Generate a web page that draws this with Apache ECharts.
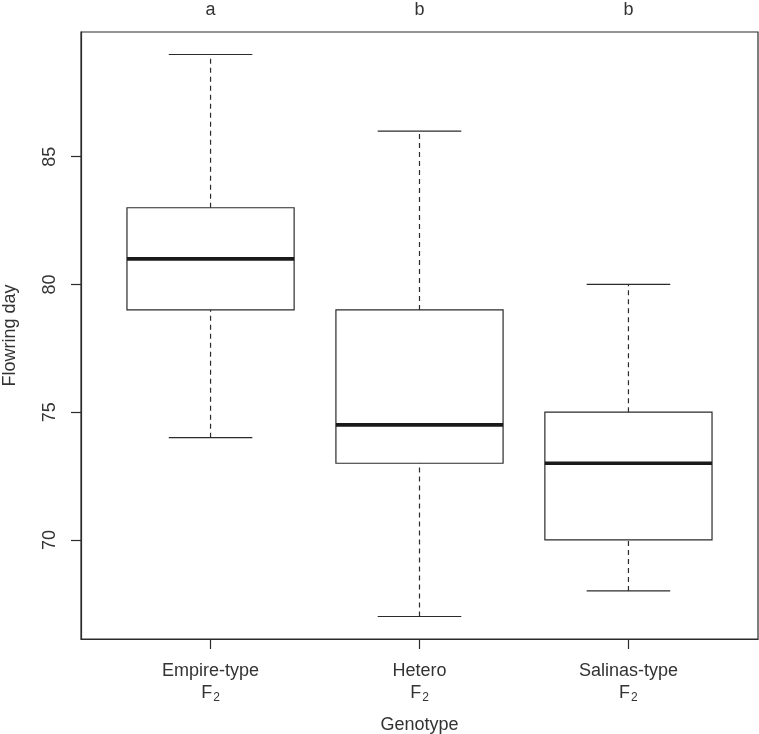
<!DOCTYPE html>
<html>
<head>
<meta charset="utf-8">
<title>Flowering day by genotype</title>
<script src="https://cdn.jsdelivr.net/npm/echarts@6/dist/echarts.min.js"></script>
<style>
  html, body { margin: 0; padding: 0; background: #fff; }
  #chart { width: 759px; height: 734px; }
</style>
</head>
<body>
<div id="chart"></div>
<script>
  // data
  var genotypes = ['Empire-type', 'Hetero', 'Salinas-type'];
  var sigLetters = ['a', 'b', 'b'];
  var whiskerLow = [74, 67, 68];
  var q1 = [79, 73, 70];
  var median = [81, 74.5, 73];
  var q3 = [83, 79, 75];
  var whiskerHigh = [89, 86, 80];
  var yTicks = [70, 75, 80, 85];

  var boxData = genotypes.map(function (g, i) {
    return [i + 1, whiskerLow[i], q1[i], median[i], q3[i], whiskerHigh[i]];
  });

  var lineCol = '#2b2b2b';
  var textCol = '#333';
  var fontFam = '"Liberation Sans", Arial, sans-serif';

  function renderBox(params, api) {
    var x = api.value(0);
    var lo = api.value(1), a = api.value(2), m = api.value(3), b = api.value(4), hi = api.value(5);
    var bw = 0.4, sw = 0.2;
    function pt(xx, yy) { return api.coord([xx, yy]); }
    var dash = { stroke: lineCol, lineWidth: 1.2, lineDash: [5, 4] };
    var solid = { stroke: lineCol, lineWidth: 1.2 };
    var pLoL = pt(x - sw, lo), pLoR = pt(x + sw, lo);
    var pHiL = pt(x - sw, hi), pHiR = pt(x + sw, hi);
    var bTL = pt(x - bw, b), bBR = pt(x + bw, a);
    var mL = pt(x - bw, m), mR = pt(x + bw, m);
    return {
      type: 'group',
      children: [
        { type: 'line', shape: { x1: pt(x, lo)[0], y1: pt(x, lo)[1], x2: pt(x, a)[0], y2: pt(x, a)[1] }, style: dash },
        { type: 'line', shape: { x1: pt(x, b)[0], y1: pt(x, b)[1], x2: pt(x, hi)[0], y2: pt(x, hi)[1] }, style: dash },
        { type: 'line', shape: { x1: pLoL[0], y1: pLoL[1], x2: pLoR[0], y2: pLoR[1] }, style: solid },
        { type: 'line', shape: { x1: pHiL[0], y1: pHiL[1], x2: pHiR[0], y2: pHiR[1] }, style: solid },
        { type: 'rect', shape: { x: bTL[0], y: bTL[1], width: bBR[0] - bTL[0], height: bBR[1] - bTL[1] },
          style: { fill: '#fff', stroke: lineCol, lineWidth: 1.2 } },
        { type: 'line', shape: { x1: mL[0], y1: mL[1], x2: mR[0], y2: mR[1] }, style: { stroke: '#1a1a1a', lineWidth: 3.6 } }
      ]
    };
  }

  var chart = echarts.init(document.getElementById('chart'));
  chart.setOption({
    animation: false,
    grid: { left: 81, top: 32, right: 1, bottom: 95, outerBoundsMode: 'none', containLabel: false,
      show: true, borderColor: lineCol, borderWidth: 1.2 },
    xAxis: [{
      type: 'value', min: 0.38, max: 3.62, position: 'bottom',
      splitLine: { show: false },
      axisLine: { show: true, lineStyle: { color: lineCol, width: 1.2 } },
      axisTick: { show: true, inside: false, length: 10, customValues: [1, 2, 3], lineStyle: { color: lineCol, width: 1.2 } },
      axisLabel: {
        customValues: [1, 2, 3], margin: 21, color: textCol, fontFamily: fontFam, fontSize: 18, lineHeight: 22,
        formatter: function (v) { return genotypes[Math.round(v) - 1] + '\n{f|F}{s|2}'; },
        rich: {
          f: { fontSize: 18, color: textCol, fontFamily: fontFam, lineHeight: 22 },
          s: { fontSize: 12, color: textCol, fontFamily: fontFam, lineHeight: 22, verticalAlign: 'bottom', padding: [8, 0, 0, 1] }
        }
      },
      name: 'Genotype', nameLocation: 'middle', nameGap: 77,
      nameTextStyle: { color: textCol, fontFamily: fontFam, fontSize: 18 }
    }, {
      type: 'value', min: 0.38, max: 3.62, position: 'top',
      splitLine: { show: false }, axisLine: { show: false }, axisTick: { show: false },
      axisLabel: {
        customValues: [1, 2, 3], margin: 13, color: textCol, fontFamily: fontFam, fontSize: 18,
        formatter: function (v) { return sigLetters[Math.round(v) - 1]; }
      }
    }],
    yAxis: {
      type: 'value', min: 66.12, max: 89.88,
      splitLine: { show: false },
      axisLine: { show: true, lineStyle: { color: lineCol, width: 1.2 } },
      axisTick: { show: true, inside: false, length: 10, customValues: yTicks, lineStyle: { color: lineCol, width: 1.2 } },
      axisLabel: { customValues: yTicks, rotate: 90, margin: 22, color: textCol, fontFamily: fontFam, fontSize: 18 },
      name: 'Flowring day', nameLocation: 'middle', nameRotate: 90, nameGap: 62,
      nameTextStyle: { color: textCol, fontFamily: fontFam, fontSize: 18 }
    },
    series: [{
      type: 'custom',
      renderItem: renderBox,
      encode: { x: 0, y: [1, 2, 3, 4, 5] },
      data: boxData,
      clip: false
    }]
  });
</script>
</body>
</html>
